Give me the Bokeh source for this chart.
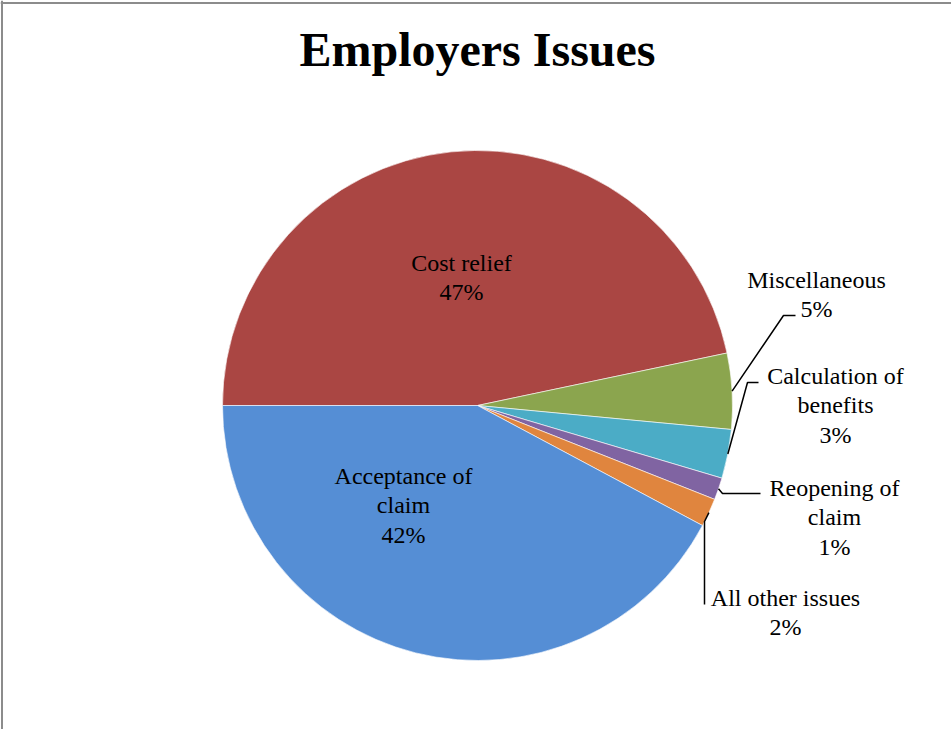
import math
from bokeh.plotting import figure
from bokeh.models import Range1d, Span, ColumnDataSource
from bokeh.core.properties import value
from bokeh.embed import file_html
from bokeh.resources import INLINE

# ---- data (clockwise from 9 o'clock, as in the reference) ----
categories = ["Cost relief", "Miscellaneous", "Calculation of benefits",
              "Reopening of claim", "All other issues", "Acceptance of claim"]
shares = [46.7, 4.8, 3.1, 1.4, 1.8, 42.2]
pct_labels = ["47%", "5%", "3%", "1%", "2%", "42%"]
label_text = ["Cost relief", "Miscellaneous", "Calculation of\nbenefits",
              "Reopening of\nclaim", "All other issues", "Acceptance of\nclaim"]
colors = ["#AA4643", "#8BA54E", "#4BACC6", "#8064A2", "#E0853E", "#558ED5"]

# ---- layout (screen pixels) ----
W, H = 951, 729
CX, CY, R = 477, 405, 255
label_pos = [(461, 277), (816, 294), (835, 405), (834, 517), (785, 612), (403, 505)]
leader_pts = [None, [(783, 315), (795, 315)], [(747, 382), (758, 382)],
              [(722, 493), (760, 493)], [(704, 521), (704, 604)], None]

def Y(sy):
    return H - sy

p = figure(width=W, height=H, output_backend="svg", toolbar_location=None,
           x_range=Range1d(0, W), y_range=Range1d(0, H), min_border=0)
p.axis.visible = False
p.grid.visible = False
p.outline_line_color = None
p.background_fill_color = "white"
p.border_fill_color = "white"

# wedges
total = sum(shares)
starts, ends, mids = [], [], []
cum = 0.0
for s in shares:
    a_before = 180 - 360 * cum / total
    cum += s
    a_after = 180 - 360 * cum / total
    starts.append(math.radians(a_after))
    ends.append(math.radians(a_before))
    mids.append(math.radians((a_before + a_after) / 2))

src = ColumnDataSource(dict(start=starts, end=ends, color=colors, cat=categories))
p.wedge(x=CX, y=Y(CY), radius=R, start_angle="start", end_angle="end",
        direction="anticlock", fill_color="color", line_color="white",
        line_width=0.6, source=src)

# leader lines
for i, pts in enumerate(leader_pts):
    if pts is None:
        continue
    sx = CX + R * math.cos(mids[i])
    sy = CY - R * math.sin(mids[i])
    xs = [sx] + [q[0] for q in pts]
    ys = [Y(sy)] + [Y(q[1]) for q in pts]
    p.line(xs, ys, line_color="black", line_width=1.5)

# labels
texts = [f"{t}\n{pc}" for t, pc in zip(label_text, pct_labels)]
p.text(x=[q[0] for q in label_pos], y=[Y(q[1]) for q in label_pos], text=texts,
       text_font=value("Liberation Serif"), text_font_size="24px",
       text_color="black", text_align="center", text_baseline="middle",
       text_line_height=1.13)

# title
p.text(x=[CX], y=[Y(49)], text=["Employers Issues"],
       text_font=value("Liberation Serif"), text_font_size="48px",
       text_font_style="bold", text_color="black", text_align="center",
       text_baseline="middle")

# chart-area border (visible on left and top)
p.add_layout(Span(location=1.5, dimension="height", line_color="#8C8C8C", line_width=2))
p.add_layout(Span(location=H - 2.5, dimension="width", line_color="#8C8C8C", line_width=2))

open("out.html", "w").write(file_html(p, INLINE))
